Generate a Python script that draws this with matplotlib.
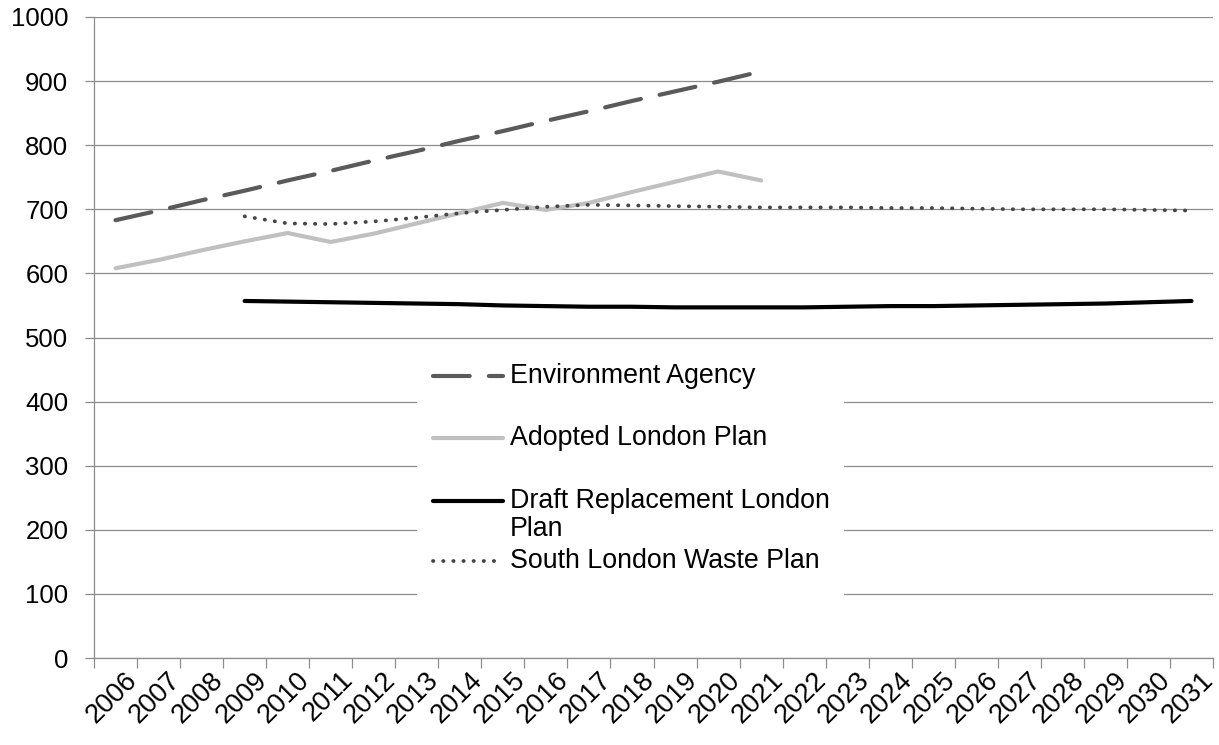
import numpy as np
import matplotlib
matplotlib.use('Agg')
import matplotlib.pyplot as plt
from matplotlib.patches import Rectangle
from matplotlib.transforms import ScaledTranslation

plt.rcParams['font.family'] = ['Liberation Sans', 'DejaVu Sans']

years = [str(y) for y in range(2006, 2032)]

# Environment Agency, 2006-2021
env_agency = [683, 698, 714, 729, 745, 760, 776, 791, 807, 822, 838, 853, 869, 884, 899, 915]
# Adopted London Plan, 2006-2021
adopted = [608, 621, 636, 650, 663, 649, 662, 678, 694, 710, 699, 710, 727, 743, 759, 745]
# Draft Replacement London Plan, 2009-2031
draft = [557, 556, 555, 554, 553, 552, 550, 549, 548, 548, 547, 547,
         547, 547, 548, 549, 549, 550, 551, 552, 553, 555, 557]
# South London Waste Plan, 2009-2031
south = [689, 678, 677, 681, 687, 694, 699, 704, 707, 706, 705, 704,
         703, 703, 703, 702, 702, 701, 700, 700, 700, 699, 698]

grid_col = '#8c8c8c'
c_env = '#5a5a5a'
c_adopt = '#c0c0c0'
c_draft = '#000000'
c_south = '#454545'
fs = 18.5
fs_x = 19.5
fs_leg = 19.3

fig = plt.figure(figsize=(12.19, 7.45), dpi=100)
ax = fig.add_axes([94 / 1219, 1 - 658 / 745, 1119 / 1219, 641 / 745])

x_env = np.arange(len(env_agency))
x_adopt = np.arange(len(adopted))
x_draft = np.arange(3, 3 + len(draft))
x_south = np.arange(3, 3 + len(south))

env_style = dict(color=c_env, lw=3, dashes=(8.8, 4.6), dash_capstyle='round')
south_style = dict(color=c_south, lw=2.7, dashes=(0.1, 2.6), dash_capstyle='round')

ax.plot(x_env, env_agency, zorder=3, **env_style)
ax.plot(x_adopt, adopted, color=c_adopt, lw=3, solid_joinstyle='round', solid_capstyle='round', zorder=3)
ax.plot(x_draft, draft, color=c_draft, lw=3, solid_capstyle='round', zorder=3)
ax.plot(x_south, south, zorder=3, **south_style)

ax.set_xlim(-0.5, len(years) - 0.5)
ax.set_ylim(0, 1000)
ax.set_yticks(range(0, 1001, 100))
ax.grid(axis='y', color=grid_col, lw=0.9, zorder=0)
ax.set_axisbelow(True)

# tick marks between categories, labels at the centres
ax.set_xticks(np.arange(-0.5, len(years), 1))
ax.set_xticklabels([])
ax.set_xticks(np.arange(len(years)), minor=True)
ax.set_xticklabels(years, minor=True, rotation=45, ha='right', va='center',
                   rotation_mode='anchor', fontsize=fs_x)
ax.tick_params(axis='x', which='major', length=7, color=grid_col, width=0.9)
ax.tick_params(axis='x', which='minor', length=0, pad=0)
ax.tick_params(axis='y', length=6.5, color=grid_col, width=0.9, pad=12, labelsize=fs)
offset = ScaledTranslation(13 / 72, -13 / 72, fig.dpi_scale_trans)
for lab in ax.xaxis.get_minorticklabels():
    lab.set_transform(lab.get_transform() + offset)

for s in ['top', 'right']:
    ax.spines[s].set_visible(False)
for s in ['left', 'bottom']:
    ax.spines[s].set_color(grid_col)
    ax.spines[s].set_linewidth(0.9)


# legend drawn in pixel positions of the original, converted to axes fractions
def ax_x(px):
    return (px - 94) / 1119


def ax_y(py):
    return (658 - py) / 641


tr = ax.transAxes
ax.add_patch(Rectangle((ax_x(417), ax_y(600)), ax_x(844) - ax_x(417), ax_y(345) - ax_y(600),
                       transform=tr, facecolor='white', edgecolor='none', zorder=2))
hx = [ax_x(433), ax_x(503)]
ax.plot(hx, [ax_y(376)] * 2, transform=tr, zorder=4, **env_style)
ax.plot(hx, [ax_y(438)] * 2, transform=tr, color=c_adopt, lw=3, solid_capstyle='round', zorder=4)
ax.plot(hx, [ax_y(501)] * 2, transform=tr, color=c_draft, lw=3, solid_capstyle='round', zorder=4)
ax.plot(hx, [ax_y(561)] * 2, transform=tr, zorder=4, **south_style)
tx = ax_x(510)
ax.text(tx, ax_y(376), 'Environment Agency', transform=tr, fontsize=fs_leg, va='center', zorder=4)
ax.text(tx, ax_y(438), 'Adopted London Plan', transform=tr, fontsize=fs_leg, va='center', zorder=4)
ax.text(tx, ax_y(515.5), 'Draft Replacement London\nPlan', transform=tr, fontsize=fs_leg,
        va='center', linespacing=1.1, zorder=4)
ax.text(tx, ax_y(561), 'South London Waste Plan', transform=tr, fontsize=fs_leg, va='center', zorder=4)

fig.savefig('out.png', dpi=100, facecolor='white')
